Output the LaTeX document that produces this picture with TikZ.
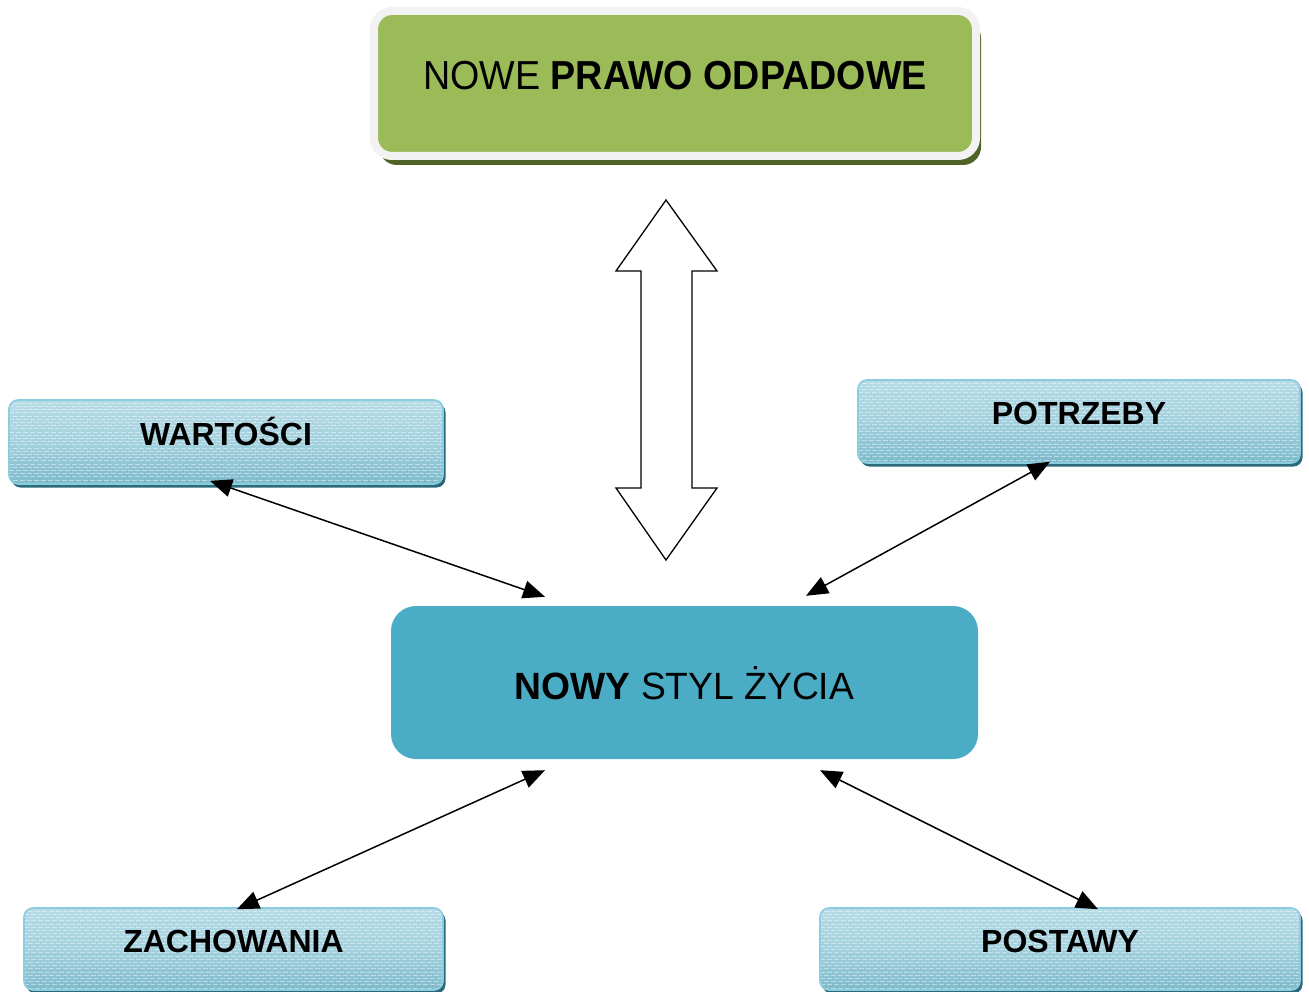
\documentclass[tikz,border=0pt]{standalone}
\usepackage{fontspec}
\setmainfont{Liberation Sans}
\usetikzlibrary{arrows.meta,shadows,calc}
\definecolor{greenfill}{HTML}{9BBB59}
\definecolor{greenedge}{HTML}{F2F2F2}
\definecolor{greenshadow}{HTML}{4F6228}
\definecolor{centerfill}{HTML}{4BACC6}
\definecolor{smalltop}{HTML}{B6DBE6}
\definecolor{smallmid}{HTML}{A4D1DE}
\definecolor{smallbot}{HTML}{7DBACB}
\definecolor{smalledge}{HTML}{8ACDDE}
\definecolor{smallshadow}{HTML}{2A6A7B}
\begin{document}
\begin{tikzpicture}[x=1pt,y=-1pt,
  smallbox/.style={rectangle, rounded corners=9pt, draw=smalledge, line width=1.6pt,
    top color=smalltop, bottom color=smallbot, middle color=smallmid,
    drop shadow={shadow xshift=2.5pt, shadow yshift=-3.5pt, fill=smallshadow, opacity=1},
    inner sep=0pt, font=\fontsize{32}{32}\selectfont\bfseries,
    path picture={
      \foreach \k [evaluate=\k as \ph using {mod(\k,2)*3.5}, evaluate=\k as \yy using {-3.2*\k}] in {1,...,30}
        \draw[white, opacity=0.45, line width=1pt, dash pattern=on 5pt off 2pt, dash phase=\ph pt]
          ([yshift=\yy pt]path picture bounding box.north west) -- ([yshift=\yy pt]path picture bounding box.north east);
    }},
  topbox/.style={rectangle, rounded corners=18pt, fill=greenfill, draw=greenedge, line width=8pt,
    drop shadow={shadow xshift=5pt, shadow yshift=-9pt, fill=greenshadow, opacity=1},
    inner sep=0pt, font=\fontsize{40.5}{40.5}\selectfont},
  centerbox/.style={rectangle, rounded corners=25pt, fill=centerfill, draw=none,
    inner sep=0pt, font=\fontsize{38}{38}\selectfont},
  tipA/.tip={Triangle[length=22pt,width=18pt]},
  conn/.style={tipA-tipA, line width=1.5pt},
  blockarrow/.style={draw=black, line width=1.3pt, fill=white, line join=miter}
]
\useasboundingbox (0,0) rectangle (1309,992);

\node[topbox, minimum width=602pt, text height=79pt, text depth=66pt] (law) at (675,83.5)
  {\scalebox{0.93}[1]{NOWE \textbf{PRAWO ODPADOWE}}};

\node[centerbox, minimum width=587pt, text height=93pt, text depth=60pt] (life) at (684.5,682.5)
  {\scalebox{0.98}[1]{\textbf{NOWY} STYL ŻYCIA}};

\node[smallbox, minimum width=434pt, text height=45pt, text depth=39pt] (wart) at (226,442) {WARTOŚCI};
\node[smallbox, minimum width=442pt, text height=44pt, text depth=39pt] (potr) at (1079,421.5) {POTRZEBY};
\node[smallbox, minimum width=419pt, text height=44pt, text depth=38pt] (zach) at (233.5,949) {ZACHOWANIA};
\node[smallbox, minimum width=480pt, text height=44pt, text depth=38pt] (post) at (1060,949) {POSTAWY};

\draw[blockarrow] (666,200) -- (717,271) -- (692,271) -- (692,488) -- (717,488) -- (666,560)
  -- (616,488) -- (641,488) -- (641,271) -- (616,271) -- cycle;

\draw[conn] ([xshift=-16pt,yshift=4pt]wart.south) -- ([xshift=-139.5pt,yshift=9pt]life.north);
\draw[conn] ([xshift=-29pt,yshift=2pt]potr.south) -- ([xshift=121.5pt,yshift=10pt]life.north);
\draw[conn] ([xshift=3.5pt,yshift=-2pt]zach.north) -- ([xshift=-139.5pt,yshift=-11pt]life.south);
\draw[conn] ([xshift=38pt,yshift=-2pt]post.north) -- ([xshift=135.5pt,yshift=-11pt]life.south);
\end{tikzpicture}
\end{document}
